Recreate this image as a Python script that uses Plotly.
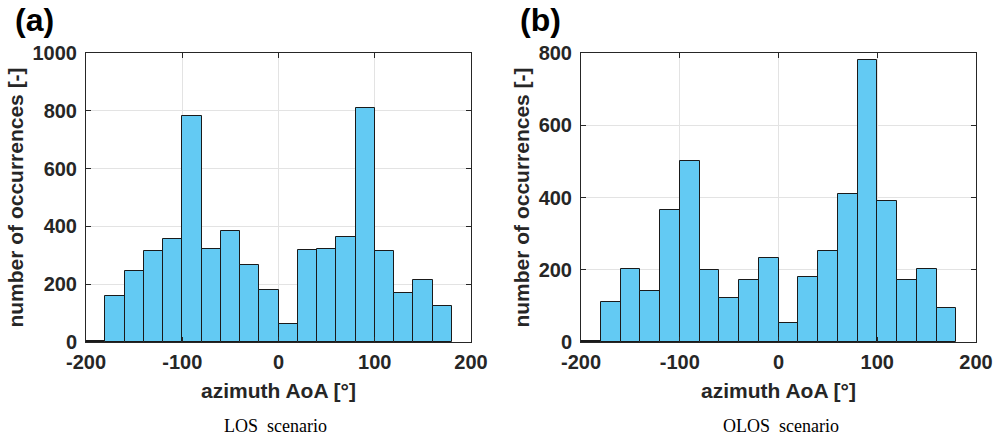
import plotly.graph_objects as go

bin_edges = [-200, -180, -160, -140, -120, -100, -80, -60, -40, -20, 0,
             20, 40, 60, 80, 100, 120, 140, 160, 180]
los_counts = [3, 160, 246, 314, 357, 781, 323, 383, 265, 180, 62,
              319, 321, 363, 809, 314, 170, 213, 125]
olos_counts = [3, 112, 201, 142, 365, 501, 200, 122, 173, 232, 53,
               180, 251, 411, 782, 389, 172, 203, 95]
x_ticks = [-200, -100, 0, 100, 200]
x_ticklabels = ["-200", "-100", "0", "100", "200"]
los_yticks = [0, 200, 400, 600, 800, 1000]
olos_yticks = [0, 200, 400, 600, 800]

centers = [(bin_edges[i] + bin_edges[i + 1]) / 2 for i in range(len(bin_edges) - 1)]
widths = [bin_edges[i + 1] - bin_edges[i] for i in range(len(bin_edges) - 1)]

W, H = 995, 439

def px(x):
    return x / W

def py(y):
    return 1 - y / H

fill = "#63CAF3"
edge = "#1a1a1a"
axc = "#262626"
FONT = "Liberation Sans"

fig = go.Figure()
fig.add_trace(go.Bar(x=centers, y=los_counts, width=widths, marker=dict(color=fill, line=dict(color=edge, width=1)),
                     xaxis="x", yaxis="y", showlegend=False))
fig.add_trace(go.Bar(x=centers, y=olos_counts, width=widths, marker=dict(color=fill, line=dict(color=edge, width=1)),
                     xaxis="x2", yaxis="y2", showlegend=False))

ydom = [py(342), py(53)]

common = dict(ticks="inside", ticklen=5, tickcolor=axc, showline=True, linecolor=axc,
              linewidth=1, mirror="allticks", showgrid=True, gridcolor="#e3e3e3", zeroline=False,
              automargin=False,
              tickfont=dict(family=FONT, size=20, color=axc, weight="bold"))

def xax(dom, anchor):
    return dict(domain=dom, anchor=anchor, range=[-200, 200], tickvals=x_ticks, ticktext=x_ticklabels,
                title=dict(text="<b>azimuth AoA [°]</b>", font=dict(family=FONT, size=21, color=axc), standoff=11),
                ticklabelstandoff=2,
                **common)

def yax(rng, tv, anchor):
    return dict(domain=ydom, anchor=anchor, range=rng, tickvals=tv,
                title=dict(text="<b>number of occurrences [-]</b>", font=dict(family=FONT, size=21, color=axc), standoff=3),
                ticklabelstandoff=4,
                **common)

fig.update_layout(
    width=W, height=H, margin=dict(l=0, r=0, t=0, b=0),
    paper_bgcolor="white", plot_bgcolor="white", bargap=0,
    xaxis=xax([px(86), px(471)], "y"),
    yaxis=yax([0, 1000], los_yticks, "x"),
    xaxis2=xax([px(581), px(976)], "y2"),
    yaxis2=yax([0, 800], olos_yticks, "x2"),
    annotations=[
        dict(text="<b>(a)</b>", x=px(13), y=py(20), xref="paper", yref="paper", xanchor="left", yanchor="middle",
             showarrow=False, font=dict(family=FONT, size=32, color="black")),
        dict(text="<b>(b)</b>", x=px(518), y=py(20), xref="paper", yref="paper", xanchor="left", yanchor="middle",
             showarrow=False, font=dict(family=FONT, size=32, color="black")),
        dict(text="LOS&nbsp; scenario", x=px(275), y=py(426), xref="paper", yref="paper", xanchor="center", yanchor="middle",
             showarrow=False, font=dict(family="Liberation Serif", size=18, color="black")),
        dict(text="OLOS&nbsp; scenario", x=px(781), y=py(426), xref="paper", yref="paper", xanchor="center", yanchor="middle",
             showarrow=False, font=dict(family="Liberation Serif", size=18, color="black")),
    ],
)

fig.write_html("out.html",
               config={"displayModeBar": False},
               post_script="document.body.style.margin='0';document.body.style.overflow='hidden';")
